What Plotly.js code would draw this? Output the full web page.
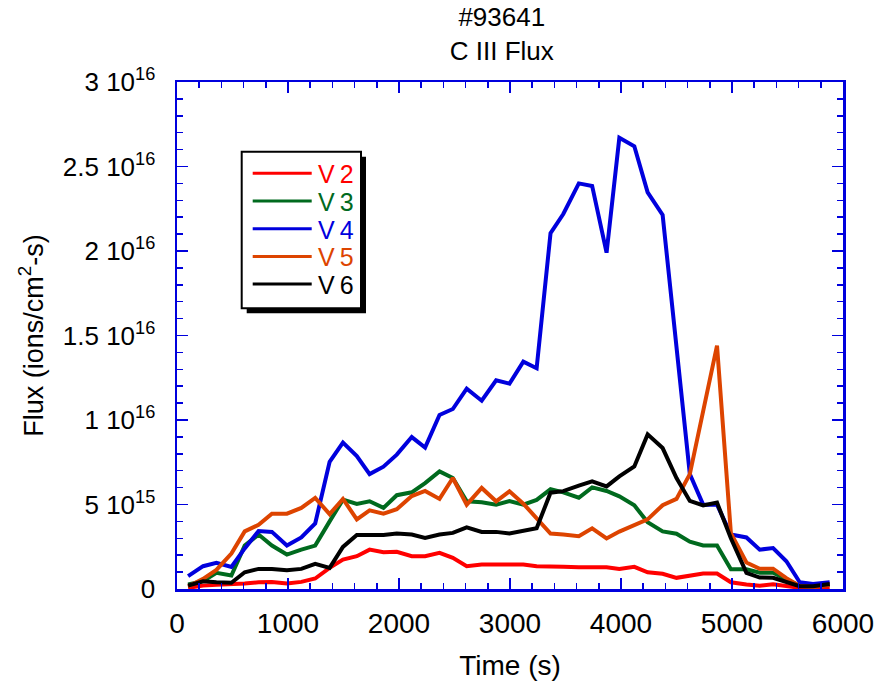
<!DOCTYPE html>
<html>
<head>
<meta charset="utf-8">
<script src="https://cdn.plot.ly/plotly-3.0.1.min.js"></script>
<style>html,body{margin:0;padding:0;background:#fff;}#chart{width:896px;height:681px;}</style>
</head>
<body>
<div id="chart"></div>
<script>
// Time (s)
const time = [100,235,355,490,610,735,855,990,1120,1245,1375,1495,1620,1735,1860,1980,2115,2235,2365,2485,2610,2745,2875,2995,3120,3240,3365,3480,3620,3740,3870,3985,4120,4240,4375,4500,4620,4740,4865,4990,5130,5250,5370,5490,5610,5730,5880];
// Flux values in units of 1e15 ions/cm^2-s
const v2 = [0.07,0.2,0.25,0.27,0.32,0.4,0.42,0.32,0.42,0.62,1.25,1.74,1.94,2.33,2.17,2.2,1.94,1.94,2.14,1.84,1.35,1.45,1.45,1.45,1.45,1.35,1.35,1.31,1.29,1.29,1.29,1.19,1.31,0.99,0.9,0.66,0.78,0.91,0.91,0.4,0.27,0.2,0.28,0.2,0.07,0.07,0.12];
const v3 = [0.27,0.46,0.96,0.8,2.57,3.22,2.57,2.04,2.33,2.57,4.0,5.29,5.03,5.19,4.8,5.55,5.72,6.27,6.96,6.57,5.19,5.13,4.99,5.2,4.99,5.27,5.9,5.72,5.4,6.01,5.8,5.48,4.95,3.95,3.41,3.27,2.8,2.58,2.58,1.17,1.17,0.96,0.96,0.54,0.17,0.15,0.25];
const v4 = [0.76,1.35,1.55,1.31,2.4,3.43,3.38,2.57,3.05,3.88,7.53,8.66,7.87,6.8,7.24,7.95,8.99,8.37,10.3,10.65,11.85,11.14,12.35,12.15,13.45,13.06,21.05,22.19,24.0,23.85,19.9,26.7,26.2,23.47,22.13,14.3,6.8,4.99,4.99,3.22,3.05,2.33,2.42,1.64,0.4,0.3,0.4];
const v5 = [0.15,0.6,1.13,2.1,3.41,3.8,4.46,4.46,4.8,5.39,4.43,5.33,4.12,4.65,4.46,4.72,5.5,5.8,5.33,6.57,4.99,5.98,5.19,5.78,5.05,4.15,3.28,3.22,3.12,3.59,2.99,3.4,3.75,4.12,4.96,5.33,6.8,10.6,14.4,3.3,1.57,1.2,1.2,0.64,0.18,0.12,0.25];
const v6 = [0.2,0.46,0.4,0.37,0.99,1.19,1.19,1.11,1.19,1.49,1.25,2.49,3.2,3.2,3.2,3.28,3.22,3.02,3.22,3.32,3.65,3.38,3.38,3.28,3.46,3.59,5.7,5.79,6.12,6.37,6.07,6.66,7.25,9.15,8.34,6.57,5.21,4.94,5.11,3.0,0.96,0.68,0.66,0.44,0.17,0.17,0.29];
const seriesNames = ['V2','V3','V4','V5','V6'];
const seriesColors = ['#ff0000','#006a1e','#0000dd','#dd4400','#000000'];
const yTickVals = [0,5e15,1e16,1.5e16,2e16,2.5e16,3e16];
const yTickText = ['0','5 10<sup>15</sup>','1 10<sup>16</sup>','1.5 10<sup>16</sup>','2 10<sup>16</sup>','2.5 10<sup>16</sup>','3 10<sup>16</sup>'];
const xTickVals = [0,1000,2000,3000,4000,5000,6000];

const allSeries = [v2,v3,v4,v5,v6];
const traces = allSeries.map((s,i)=>({
  x: time, y: s.map(v=>v*1e15), type:'scatter', mode:'lines', name: seriesNames[i],
  line:{color: seriesColors[i], width:4}, showlegend:false
}));

// plot area in pixels (for legend decoration placement)
const L=177, R=843, T=82, B=589;
const px2x = p => (p-L)/(R-L);
const py2y = p => (B-p)/(B-T);
const axisBlue = '#0000dd';
const font = 'Liberation Sans, Arial, sans-serif';

const shapes = [];
const annotations = [];
// legend shadow + box
const bx0=241.7, bx1=361, by0=151.7, by1=308.3, sh=5;
shapes.push({type:'rect', xref:'paper', yref:'paper', x0:px2x(bx0+sh), x1:px2x(bx1+sh), y0:py2y(by1+sh), y1:py2y(by0+sh), fillcolor:'#000', line:{width:0}, layer:'above'});
shapes.push({type:'rect', xref:'paper', yref:'paper', x0:px2x(bx0), x1:px2x(bx1), y0:py2y(by1), y1:py2y(by0), fillcolor:'#fff', line:{color:'#000', width:2}, layer:'above'});
seriesNames.forEach((n,i)=>{
  const yy = 173.3 + i*27.7;
  shapes.push({type:'line', xref:'paper', yref:'paper', x0:px2x(252.7), x1:px2x(311.7), y0:py2y(yy), y1:py2y(yy), line:{color:seriesColors[i], width:3}, layer:'above'});
  annotations.push({xref:'paper', yref:'paper', x:px2x(316), y:py2y(yy+1), xanchor:'left', yanchor:'middle', text:n.replace('V','V\u2009'), showarrow:false, font:{family:font, size:25, color:seriesColors[i]}});
});

const axisCommon = {
  showline:true, linecolor:axisBlue, linewidth:2.5, mirror:'ticks',
  ticks:'inside', tickcolor:axisBlue, tickwidth:1.5, ticklen:11,
  showgrid:false, zeroline:false,
  tickfont:{family:font, size:28, color:'#000'}
};

const layout = {
  width:896, height:681,
  margin:{l:L, r:896-R, t:T, b:681-B},
  paper_bgcolor:'#fff', plot_bgcolor:'#fff',
  showlegend:false,
  title:{text:'#93641<br>C III Flux', font:{family:font, size:26, color:'#000'}, xref:'container', x:0.56, xanchor:'center', yref:'container', y:0.962, yanchor:'top'},
  xaxis: Object.assign({}, axisCommon, {
    range:[0,6000], tickmode:'array', tickvals:xTickVals, ticklabelstandoff:8,
    minor:{dtick:200, tick0:0, ticks:'inside', ticklen:6, tickcolor:axisBlue, tickwidth:1.5, showgrid:false},
    title:{text:'Time (s)', font:{family:font, size:28, color:'#000'}, standoff:18}
  }),
  yaxis: Object.assign({}, axisCommon, {
    range:[0,3e16], tickmode:'array', tickvals:yTickVals, ticktext:yTickText, ticklabelstandoff:14,
    tickfont:{family:font, size:26, color:'#000'},
    minor:{dtick:1e15, tick0:0, ticks:'inside', ticklen:6, tickcolor:axisBlue, tickwidth:1.5, showgrid:false},
    title:{text:'Flux (ions/cm<sup>2</sup>-s)', font:{family:font, size:27, color:'#000'}, standoff:12}
  }),
  shapes: shapes,
  annotations: annotations
};

Plotly.newPlot('chart', traces, layout, {staticPlot:true, displayModeBar:false});
</script>
</body>
</html>
